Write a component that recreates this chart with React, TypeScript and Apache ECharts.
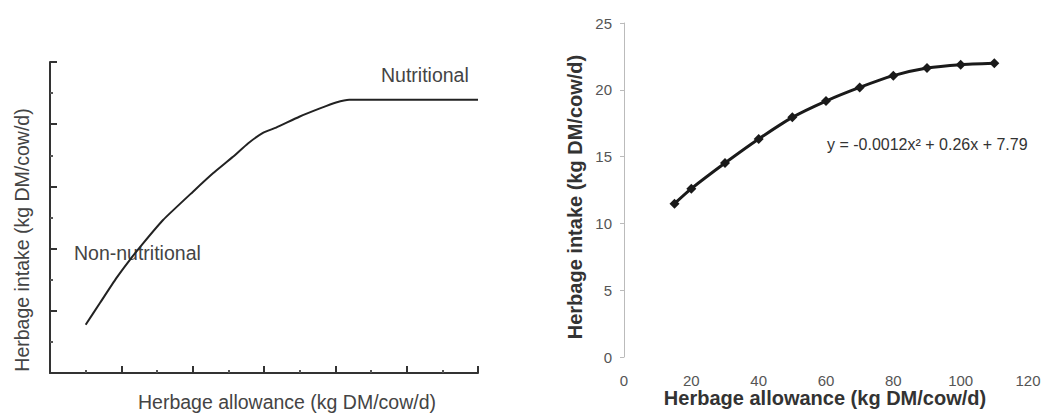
import React, { useEffect, useRef } from "react";
import * as echarts from "echarts";

// Conceptual response curve (arbitrary units on both axes)
const conceptX = [1.0, 1.4, 1.86, 2.24, 2.61, 3.17, 4.01, 4.57, 5.13, 5.55, 5.97, 6.34, 6.99, 7.55, 8.02, 8.39, 12];
const conceptY = [1.55, 2.25, 3.05, 3.64, 4.17, 4.92, 5.83, 6.42, 6.95, 7.38, 7.72, 7.89, 8.24, 8.5, 8.7, 8.79, 8.79];

// Measured intake against allowance
const allowance = [15, 20, 30, 40, 50, 60, 70, 80, 90, 100, 110];
const intake = [11.48, 12.6, 14.52, 16.32, 17.94, 19.16, 20.18, 21.06, 21.63, 21.88, 21.98];

const equationText = "y = -0.0012x\u00b2 + 0.26x + 7.79";
const FONT = "'Liberation Sans', Arial, Helvetica, sans-serif";

export default function App() {
  const ref = useRef<HTMLDivElement>(null);

  useEffect(() => {
    document.body.style.margin = "0";
    if (!ref.current) return;
    const chart = echarts.init(ref.current, undefined, { renderer: "svg" });
    const axisDark = { lineStyle: { color: "#333", width: 2 } };

    chart.setOption({
      animation: false,
      backgroundColor: "#fff",
      grid: [
        { left: 50, top: 62, width: 428, height: 311 },
        { left: 624, top: 23, width: 404, height: 334 },
      ],
      xAxis: [
        {
          gridIndex: 0,
          type: "value",
          min: 0,
          max: 12,
          interval: 2,
          axisLine: axisDark,
          axisTick: { show: true, inside: true, length: 7, lineStyle: { color: "#333", width: 2 } },
          minorTick: { show: true, splitNumber: 2, length: 3, lineStyle: { color: "#555", width: 2 } },
          axisLabel: { show: false },
          splitLine: { show: false },
        },
        {
          gridIndex: 1,
          type: "value",
          min: 0,
          max: 120,
          interval: 20,
          axisLine: { show: false },
          axisTick: { show: false },
          axisLabel: { color: "#555", fontSize: 15, fontFamily: FONT, margin: 16 },
          splitLine: { show: false },
        },
      ],
      yAxis: [
        {
          gridIndex: 0,
          type: "value",
          min: 0,
          max: 10,
          interval: 2,
          axisLine: axisDark,
          axisTick: { show: true, inside: true, length: 7, lineStyle: { color: "#333", width: 2 } },
          minorTick: { show: true, splitNumber: 2, length: 3, lineStyle: { color: "#555", width: 2 } },
          axisLabel: { show: false },
          splitLine: { show: false },
        },
        {
          gridIndex: 1,
          type: "value",
          min: 0,
          max: 25,
          interval: 5,
          axisLine: { show: true, lineStyle: { color: "#bbb", width: 1 } },
          axisTick: { show: true, length: 4, lineStyle: { color: "#bbb" } },
          axisLabel: { color: "#555", fontSize: 15, fontFamily: FONT, margin: 12 },
          splitLine: { show: false },
        },
      ],
      series: [
        {
          type: "line",
          xAxisIndex: 0,
          yAxisIndex: 0,
          data: conceptX.map((x, i) => [x, conceptY[i]]),
          showSymbol: false,
          smooth: 0.15,
          lineStyle: { color: "#222", width: 2 },
        },
        {
          type: "line",
          xAxisIndex: 1,
          yAxisIndex: 1,
          data: allowance.map((x, i) => [x, intake[i]]),
          symbol: "diamond",
          symbolSize: 10,
          smooth: 0.2,
          itemStyle: { color: "#1a1a1a" },
          lineStyle: { color: "#1a1a1a", width: 3 },
        },
      ],
      graphic: [
        {
          type: "text",
          x: 381,
          y: 75,
          style: { text: "Nutritional", fontSize: 19.5, fontFamily: FONT, fill: "#444", verticalAlign: "middle" },
        },
        {
          type: "text",
          x: 74,
          y: 253,
          style: { text: "Non-nutritional", fontSize: 19.5, fontFamily: FONT, fill: "#444", verticalAlign: "middle" },
        },
        {
          type: "text",
          x: 287,
          y: 402,
          style: {
            text: "Herbage allowance (kg DM/cow/d)",
            fontSize: 19.5,
            fontFamily: FONT,
            fill: "#444",
            align: "center",
            verticalAlign: "middle",
          },
        },
        {
          type: "text",
          x: 22,
          y: 240,
          rotation: Math.PI / 2,
          style: {
            text: "Herbage intake (kg DM/cow/d)",
            fontSize: 19.5,
            fontFamily: FONT,
            fill: "#444",
            align: "center",
            verticalAlign: "middle",
          },
        },
        {
          type: "text",
          x: 827,
          y: 144,
          style: { text: equationText, fontSize: 16, fontFamily: FONT, fill: "#333", verticalAlign: "middle" },
        },
        {
          type: "text",
          x: 825,
          y: 398,
          style: {
            text: "Herbage allowance (kg DM/cow/d)",
            fontSize: 20,
            fontWeight: "bold",
            fontFamily: FONT,
            fill: "#333",
            align: "center",
            verticalAlign: "middle",
          },
        },
        {
          type: "text",
          x: 575,
          y: 197,
          rotation: Math.PI / 2,
          style: {
            text: "Herbage intake (kg DM/cow/d)",
            fontSize: 20,
            fontWeight: "bold",
            fontFamily: FONT,
            fill: "#333",
            align: "center",
            verticalAlign: "middle",
          },
        },
      ],
    });

    return () => chart.dispose();
  }, []);

  return <div ref={ref} style={{ width: 1052, height: 416 }} />;
}
